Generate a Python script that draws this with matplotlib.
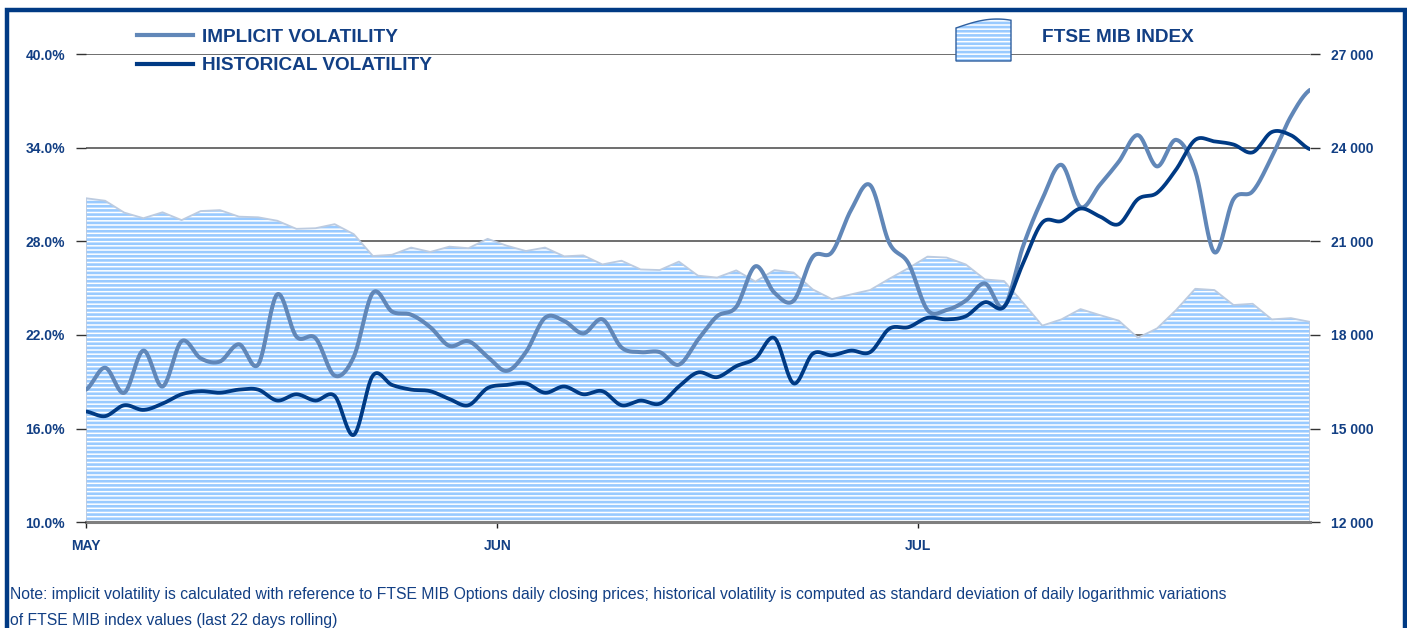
import numpy as np
import matplotlib
matplotlib.use("Agg")
import matplotlib.pyplot as plt
from matplotlib.lines import Line2D
from matplotlib.patches import Rectangle, Polygon

plt.rcParams['font.family'] = ['Liberation Sans', 'DejaVu Sans']
plt.rcParams['hatch.linewidth'] = 1.9

W, H = 1407, 628
NAVY = '#123f84'
IMPL_COLOR = '#6187b8'
HIST_COLOR = '#003a84'
STRIPE = '#99caff'
EDGE = '#bccbe0'

# trading days May-July (22 + 22 + 21)
month_labels = ["MAY", "JUN", "JUL"]
month_pos = [0, 21.5, 43.5]

ftse = [22380, 22300, 21920, 21740, 21930, 21680, 21970, 22000, 21790, 21770,
        21660, 21400, 21420, 21550, 21230, 20530, 20570, 20800, 20660, 20830,
        20780, 21080, 20860, 20690, 20800, 20520, 20550, 20260, 20380, 20100,
        20080, 20350, 19900, 19840, 20070, 19710, 20080, 20000, 19460, 19150,
        19300, 19440, 19800, 20140, 20510, 20480, 20260, 19780, 19730, 19030,
        18300, 18500, 18830, 18640, 18460, 17910, 18210, 18800, 19480, 19440,
        18960, 19000, 18500, 18540, 18420]

implicit = [18.5, 19.9, 18.3, 21.0, 18.7, 21.6, 20.5, 20.3, 21.4, 20.1,
            24.6, 21.9, 21.8, 19.4, 20.6, 24.7, 23.5, 23.3, 22.5, 21.3,
            21.6, 20.6, 19.7, 20.9, 23.1, 22.9, 22.1, 23.0, 21.2, 20.9,
            20.9, 20.1, 21.7, 23.2, 23.8, 26.4, 24.7, 24.2, 27.0, 27.3,
            30.0, 31.6, 27.9, 26.6, 23.6, 23.6, 24.2, 25.3, 23.8, 27.7,
            30.7, 32.9, 30.2, 31.6, 33.1, 34.8, 32.8, 34.5, 32.5, 27.3,
            30.7, 31.2, 33.4, 36.0, 37.7]

historical = [17.1, 16.8, 17.5, 17.2, 17.6, 18.2, 18.4, 18.3, 18.5, 18.5,
              17.8, 18.2, 17.8, 18.1, 15.6, 19.4, 18.8, 18.5, 18.4, 17.9,
              17.5, 18.6, 18.8, 18.9, 18.3, 18.7, 18.2, 18.4, 17.5, 17.8,
              17.6, 18.7, 19.6, 19.3, 20.0, 20.5, 21.8, 18.9, 20.8, 20.7,
              21.0, 20.9, 22.4, 22.5, 23.1, 23.0, 23.2, 24.1, 23.8, 26.6,
              29.2, 29.3, 30.1, 29.6, 29.1, 30.7, 31.1, 32.6, 34.5, 34.4,
              34.2, 33.7, 35.0, 34.8, 33.9]

vol_ticks = [10, 16, 22, 28, 34, 40]
idx_ticks = [12000, 15000, 18000, 21000, 24000, 27000]


def smooth(y, n=24):
    # excel-like smoothed line (bezier through the points)
    y = np.asarray(y, float)
    p = np.concatenate([[y[0]], y, [y[-1]]])
    xs, ys = [], []
    t = np.linspace(0, 1, n, endpoint=False)
    for i in range(len(y) - 1):
        p0, p1, p2, p3 = p[i], p[i + 1], p[i + 2], p[i + 3]
        c1 = p1 + (p2 - p0) / 6
        c2 = p2 - (p3 - p1) / 6
        yy = (1 - t) ** 3 * p1 + 3 * (1 - t) ** 2 * t * c1 + 3 * (1 - t) * t ** 2 * c2 + t ** 3 * p2
        xs.append(i + t)
        ys.append(yy)
    xs.append([len(y) - 1])
    ys.append([y[-1]])
    return np.concatenate(xs), np.concatenate(ys)


def fx(x):
    return x / W


def fy(y):
    return 1 - y / H


fig = plt.figure(figsize=(W / 100, H / 100), dpi=100)
ax = fig.add_axes([fx(86), fy(522.3), (1310 - 86) / W, (522.3 - 54) / H])
days = np.arange(len(ftse))

# FTSE area (right scale)
ax.fill_between(days, 12000, ftse, facecolor='white', edgecolor=STRIPE,
                hatch='----', linewidth=0, zorder=1)
ax.fill_between(days, 12000, ftse, facecolor='none', edgecolor=EDGE,
                linewidth=1.3, zorder=2)
ax.set_ylim(12000, 27000)
ax.set_xlim(0, len(ftse) - 1)
ax.set_axisbelow(True)
ax.grid(axis='y', color='#555555', linewidth=1.2)
ax.grid(axis='x', visible=False)

ax.set_xticks(month_pos)
ax.set_xticklabels(month_labels)

for s in ['top', 'left', 'right']:
    ax.spines[s].set_visible(False)
ax.spines['bottom'].set_color('#7f7f7f')
ax.spines['bottom'].set_linewidth(2.2)
ax.spines['bottom'].set_zorder(3)
ax.tick_params(axis='x', length=4, width=1, color='#222222', pad=8,
               labelsize=10, labelcolor=NAVY)
for lab in ax.get_xticklabels():
    lab.set_fontweight('bold')

# volatility lines (left scale)
ax2 = ax.twinx()
ax2.set_ylim(10, 40)
ax2.set_yticks(vol_ticks)
ax2.set_yticklabels([f"{v:.1f}%" for v in vol_ticks])
ax2.yaxis.tick_left()
for s in ax2.spines.values():
    s.set_visible(False)
ax2.tick_params(axis='y', length=7, width=1, color='#333333', pad=8,
                labelsize=10, labelcolor=NAVY)
for lab in ax2.get_yticklabels():
    lab.set_fontweight('bold')

# right scale ticks (set after twinx, which moves them)
ax.yaxis.tick_right()
ax.set_yticks(idx_ticks)
ax.set_yticklabels([f"{v:,}".replace(",", " ") for v in idx_ticks])
ax.tick_params(axis='y', length=7, width=1, color='#333333', pad=8,
               labelsize=10, labelcolor=NAVY)
for lab in ax.get_yticklabels():
    lab.set_fontweight('bold')

xs, ys = smooth(implicit)
ax2.plot(xs, ys, color=IMPL_COLOR, linewidth=2.9, solid_capstyle='round', zorder=3)
xs, ys = smooth(historical)
ax2.plot(xs, ys, color=HIST_COLOR, linewidth=2.7, solid_capstyle='round', zorder=4)

# legend
fig.add_artist(Line2D([fx(137), fx(193)], [fy(35), fy(35)], color=IMPL_COLOR, linewidth=3))
fig.add_artist(Line2D([fx(137), fx(193)], [fy(64), fy(64)], color=HIST_COLOR, linewidth=3))
fig.text(fx(202), fy(37), "IMPLICIT VOLATILITY", color=NAVY, fontsize=13.7,
         fontweight='bold', va='center', ha='left')
fig.text(fx(202), fy(65), "HISTORICAL VOLATILITY", color=NAVY, fontsize=13.7,
         fontweight='bold', va='center', ha='left')

# FTSE legend icon: wavy-top striped box
wx = np.linspace(956, 1011, 30)
wy = 28 - 9 * np.sin((wx - 956) / 55 * np.pi * 0.67)
icon = [(fx(x), fy(y)) for x, y in zip(wx, wy)] + [(fx(1011), fy(61)), (fx(956), fy(61))]
fig.add_artist(Polygon(icon, closed=True, facecolor='white', edgecolor=STRIPE,
                       hatch='----', linewidth=0, transform=fig.transFigure))
fig.add_artist(Polygon(icon, closed=True, facecolor='none', edgecolor='#2f5f9e',
                       linewidth=1.0, transform=fig.transFigure))
fig.text(fx(1042), fy(37), "FTSE MIB INDEX", color=NAVY, fontsize=13.7,
         fontweight='bold', va='center', ha='left')

# note
fig.text(fx(10), fy(595), "Note: implicit volatility is calculated with reference to FTSE MIB "
         "Options daily closing prices; historical volatility is computed as standard "
         "deviation of daily logarithmic variations", color=NAVY, fontsize=11.3,
         va='center', ha='left')
fig.text(fx(10), fy(620), "of FTSE MIB index values (last 22 days rolling)", color=NAVY,
         fontsize=11.3, va='center', ha='left')

# outer frame
fig.add_artist(Rectangle((fx(7), -0.1), fx(1398), fy(10) + 0.1, fill=False,
                         edgecolor='#003a84', linewidth=3.2, transform=fig.transFigure))

fig.savefig("out.png", dpi=100)
